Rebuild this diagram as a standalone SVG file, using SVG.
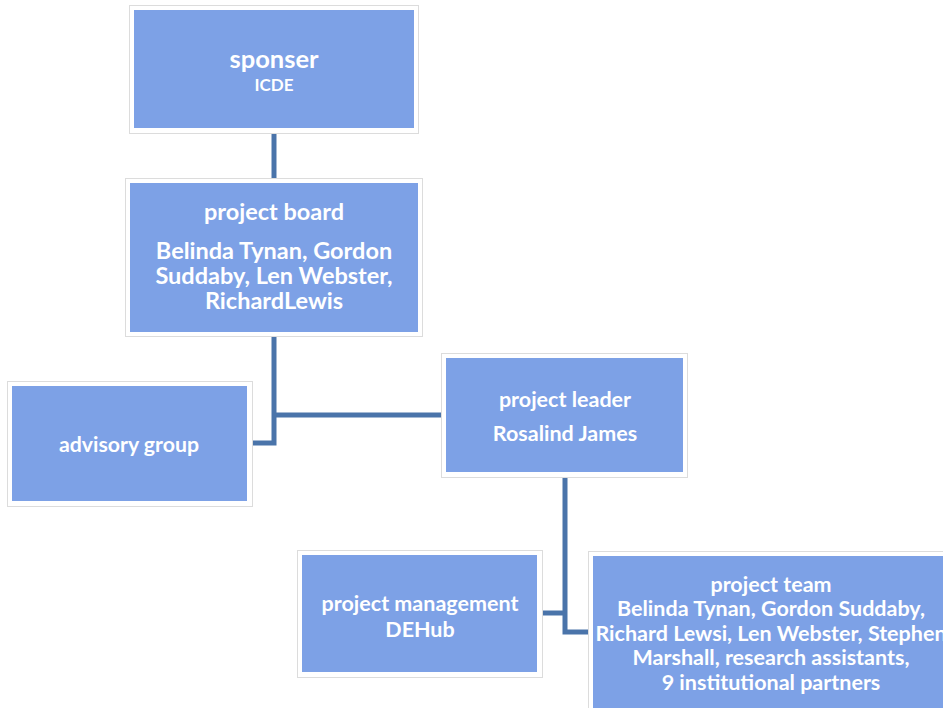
<svg xmlns="http://www.w3.org/2000/svg" width="943" height="708" viewBox="0 0 943 708">
<style>
.frame{fill:#ffffff;stroke:#dcdcdc;stroke-width:1}
.box{fill:#7da1e6}
.t{font-family:Lato,"Open Sans","Liberation Sans",sans-serif;font-weight:bold;fill:#ffffff;text-anchor:middle}
.c{fill:none;stroke:#4a74aa;stroke-width:5}
</style>
<rect width="943" height="708" fill="#ffffff"/>
<g id="connectors">
<path class="c" d="M274,133 V180"/>
<path class="c" d="M274,336 V443 H252"/>
<path class="c" d="M274,415 H442"/>
<path class="c" d="M565,477 V632 H589"/>
<path class="c" d="M565,613 H542"/>
</g>
<g id="sponser">
<rect class="frame" x="129.5" y="5.5" width="289" height="128"/>
<rect class="box" x="134" y="10" width="280" height="118"/>
<text class="t" x="274" y="68" font-size="25.5">sponser</text>
<text class="t" x="274" y="91" font-size="17">ICDE</text>
</g>
<g id="project-board">
<rect class="frame" x="125.5" y="178.5" width="297" height="158"/>
<rect class="box" x="130" y="183" width="288" height="149"/>
<text class="t" x="274" y="220" font-size="23.5">project board</text>
<text class="t" x="274" y="259" font-size="23.5">Belinda Tynan, Gordon</text>
<text class="t" x="274" y="284" font-size="23.5">Suddaby, Len Webster,</text>
<text class="t" x="274" y="309" font-size="23.5">RichardLewis</text>
</g>
<g id="advisory-group">
<rect class="frame" x="7.5" y="381.5" width="245" height="125"/>
<rect class="box" x="12" y="386" width="235" height="115"/>
<text class="t" x="129" y="452" font-size="21.3">advisory group</text>
</g>
<g id="project-leader">
<rect class="frame" x="441.5" y="353.5" width="246" height="124"/>
<rect class="box" x="446" y="358" width="237" height="114"/>
<text class="t" x="565" y="407" font-size="21.5">project leader</text>
<text class="t" x="565" y="441" font-size="21.5">Rosalind James</text>
</g>
<g id="project-management">
<rect class="frame" x="297.5" y="550.5" width="245" height="127"/>
<rect class="box" x="302" y="555" width="235" height="117"/>
<text class="t" x="420" y="611" font-size="21.5">project management</text>
<text class="t" x="420" y="637" font-size="21.5">DEHub</text>
</g>
<g id="project-team">
<rect class="frame" x="588.5" y="551.5" width="370" height="170"/>
<rect class="box" x="593" y="556" width="360" height="160"/>
<text class="t" x="771" y="592" font-size="21.5">project team</text>
<text class="t" x="771" y="616" font-size="21.5">Belinda Tynan, Gordon Suddaby,</text>
<text class="t" x="771" y="641" font-size="21.5">Richard Lewsi, Len Webster, Stephen</text>
<text class="t" x="771" y="665" font-size="21.5">Marshall, research assistants,</text>
<text class="t" x="771" y="690" font-size="21.5">9 institutional partners</text>
</g>
</svg>
